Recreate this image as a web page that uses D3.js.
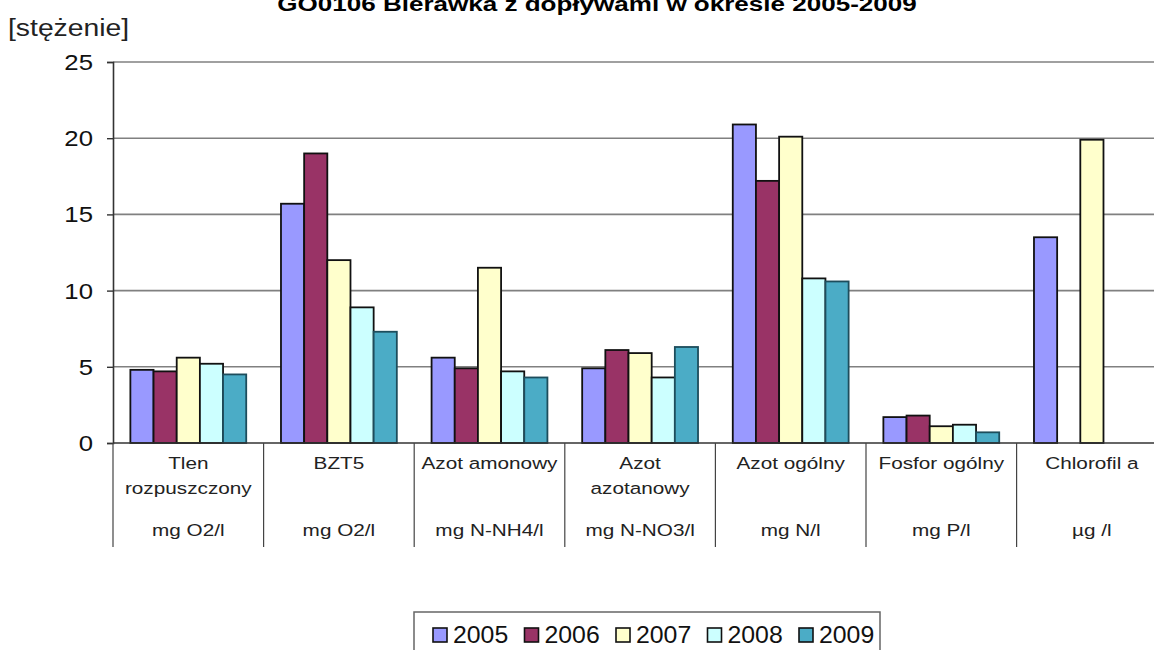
<!DOCTYPE html>
<html>
<head>
<meta charset="utf-8">
<script src="https://cdn.jsdelivr.net/npm/d3@7/dist/d3.min.js"></script>
<style>
  html, body { margin: 0; padding: 0; background: #fff; }
  svg { display: block; }
  text { font-family: "Liberation Sans", Arial, sans-serif; }
</style>
</head>
<body>
<svg id="chart" width="1154" height="650"></svg>
<script>
// ---- data ----
const title = "GO0106 Bierawka z dopływami w okresie 2005-2009";
const yAxisLabel = "[stężenie]";
const categories = ["Tlen rozpuszczony", "BZT5", "Azot amonowy", "Azot azotanowy", "Azot ogólny", "Fosfor ogólny", "Chlorofil a"];
const categoryLines = [["Tlen", "rozpuszczony"], ["BZT5"], ["Azot amonowy"], ["Azot", "azotanowy"], ["Azot ogólny"], ["Fosfor ogólny"], ["Chlorofil a"]];
const units = ["mg O2/l", "mg O2/l", "mg N-NH4/l", "mg N-NO3/l", "mg N/l", "mg P/l", "µg /l"];
const years = ["2005", "2006", "2007", "2008", "2009"];
const v2005 = [4.8, 15.7, 5.6, 4.9, 20.9, 1.7, 13.5];
const v2006 = [4.7, 19.0, 4.9, 6.1, 17.2, 1.8, null];
const v2007 = [5.6, 12.0, 11.5, 5.9, 20.1, 1.1, 19.9];
const v2008 = [5.2, 8.9, 4.7, 4.3, 10.8, 1.2, null];
const v2009 = [4.5, 7.3, 4.3, 6.3, 10.6, 0.7, null];
const yTicks = [0, 5, 10, 15, 20, 25];
const colors = ["#9999FF", "#993366", "#FFFFCC", "#CCFFFF", "#4BACC6"];

const seriesValues = [v2005, v2006, v2007, v2008, v2009];

// ---- layout ----
const svg = d3.select("#chart");
const plotLeft = 113, plotTop = 62, plotBottom = 443;
const catStep = 150.6;
const plotRight = plotLeft + catStep * categories.length;

const x = d3.scaleBand().domain(categories).range([plotLeft, plotRight]).paddingInner(0).paddingOuter(0);
const xs = d3.scaleBand().domain(years).range([0, x.bandwidth()]).paddingInner(0).paddingOuter(0.75);
const y = d3.scaleLinear().domain([0, 25]).range([plotBottom, plotTop]);

function stretchedText(g, tx, ty, str, sx, anchor) {
  return g.append("text")
    .attr("transform", `translate(${tx},${ty}) scale(${sx},1)`)
    .attr("text-anchor", anchor)
    .text(str);
}

// gridlines
svg.append("g").selectAll("line").data(yTicks.filter(t => t > 0)).join("line")
  .attr("x1", plotLeft).attr("x2", 1154)
  .attr("y1", d => y(d)).attr("y2", d => y(d))
  .attr("stroke", "#808080").attr("stroke-width", 1.6);

// bars
const data = [];
categories.forEach((c, i) => {
  years.forEach((yr, j) => {
    const v = seriesValues[j][i];
    if (v !== null && v !== undefined) data.push({ c, yr, v, j });
  });
});
svg.append("g").selectAll("rect").data(data).join("rect")
  .attr("x", d => x(d.c) + xs(d.yr))
  .attr("width", xs.bandwidth())
  .attr("y", d => y(d.v))
  .attr("height", d => y(0) - y(d.v))
  .attr("fill", d => colors[d.j])
  .attr("stroke", d => d.j === 4 ? "#1d4d5c" : "#111")
  .attr("stroke-width", 1.8);

// y axis
const yAxis = d3.axisLeft(y).tickValues(yTicks).tickSize(6).tickPadding(12).tickFormat(d3.format("d"));
const gy = svg.append("g").attr("transform", `translate(${plotLeft},0)`).call(yAxis);
gy.select(".domain").attr("stroke", "#333").attr("stroke-width", 1.6);
gy.selectAll(".tick line").attr("stroke", "#333").attr("stroke-width", 1.4);
gy.selectAll(".tick text").remove();
yTicks.forEach(t => {
  stretchedText(svg, 93, y(t) + 8, String(t), 1.12, "end")
    .attr("font-size", 23).attr("fill", "#111");
});

// x axis line
svg.append("line").attr("x1", plotLeft).attr("x2", 1154)
  .attr("y1", plotBottom).attr("y2", plotBottom)
  .attr("stroke", "#333").attr("stroke-width", 1.6);

// category separators
const bounds = categories.map(c => x(c)).concat([plotRight]);
svg.append("g").selectAll("line").data(bounds.filter(b => b <= 1154)).join("line")
  .attr("x1", d => d).attr("x2", d => d)
  .attr("y1", plotBottom).attr("y2", 547)
  .attr("stroke", "#444").attr("stroke-width", 1.2);

// category labels
const gl = svg.append("g").attr("fill", "#222").attr("font-size", 17);
categories.forEach((c, i) => {
  const cx = x(c) + x.bandwidth() / 2;
  categoryLines[i].forEach((ln, k) => {
    stretchedText(gl, cx, 469 + k * 25, ln, 1.22, "middle");
  });
  stretchedText(gl, cx, 536, units[i], 1.22, "middle");
});

// title
stretchedText(svg, 597, 11, title, 1.24, "middle")
  .attr("font-size", 21).attr("font-weight", "bold").attr("fill", "#000");

// y label
svg.append("text")
  .attr("transform", "translate(8,36) scale(1.18,1)")
  .attr("font-family", "DejaVu Sans, sans-serif")
  .attr("font-size", 24).attr("fill", "#222")
  .text(yAxisLabel);

// legend
const lg = svg.append("g");
lg.append("rect").attr("x", 414).attr("y", 612).attr("width", 466).attr("height", 50)
  .attr("fill", "#fff").attr("stroke", "#666").attr("stroke-width", 1.5);
years.forEach((yr, j) => {
  const lx = 433 + j * 91.5;
  lg.append("rect").attr("x", lx).attr("y", 628).attr("width", 14).attr("height", 14)
    .attr("fill", colors[j]).attr("stroke", "#111").attr("stroke-width", 1.6);
  stretchedText(lg, lx + 20, 643, yr, 1.08, "start")
    .attr("font-size", 23).attr("fill", "#111");
});
</script>
</body>
</html>
